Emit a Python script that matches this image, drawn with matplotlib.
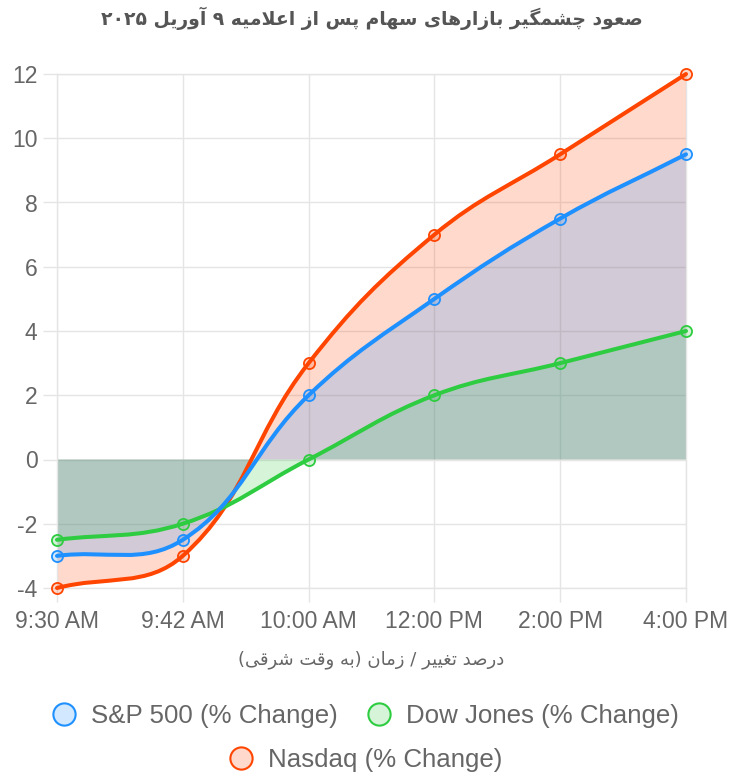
import numpy as np
import matplotlib
matplotlib.use("Agg")
import matplotlib.pyplot as plt
from matplotlib.path import Path
from matplotlib.patches import PathPatch
from matplotlib.lines import Line2D

plt.rcParams["axes.unicode_minus"] = False

# ================= data =================
times = ["9:30 AM", "9:42 AM", "10:00 AM", "12:00 PM", "2:00 PM", "4:00 PM"]
sp500 = [-3, -2.5, 2, 5, 7.5, 9.5]
dow = [-2.5, -2, 0, 2, 3, 4]
nasdaq = [-4, -3, 3, 7, 9.5, 12]
series_names = ["S&P 500 (% Change)", "Dow Jones (% Change)", "Nasdaq (% Change)"]
y_ticks = [-4, -2, 0, 2, 4, 6, 8, 10, 12]

title_fa = "صعود چشمگیر بازارهای سهام پس از اعلامیه ۹ آوریل ۲۰۲۵"
xlabel_fa = "درصد تغییر / زمان (به وقت شرقی)"

colors = ["#1E90FF", "#2ECC40", "#FF4500"]

# ================= persian shaping (no bidi lib available) =================
# char: (isolated, final, initial, medial); right-joining letters have only 2 forms
FORMS = {
    "ا": (0xFE8D, 0xFE8E), "آ": (0xFE81, 0xFE82), "د": (0xFEA9, 0xFEAA),
    "ر": (0xFEAD, 0xFEAE), "ز": (0xFEAF, 0xFEB0), "و": (0xFEED, 0xFEEE),
    "ب": (0xFE8F, 0xFE90, 0xFE91, 0xFE92), "ت": (0xFE95, 0xFE96, 0xFE97, 0xFE98),
    "س": (0xFEB1, 0xFEB2, 0xFEB3, 0xFEB4), "ش": (0xFEB5, 0xFEB6, 0xFEB7, 0xFEB8),
    "ص": (0xFEB9, 0xFEBA, 0xFEBB, 0xFEBC), "ع": (0xFEC9, 0xFECA, 0xFECB, 0xFECC),
    "غ": (0xFECD, 0xFECE, 0xFECF, 0xFED0), "ق": (0xFED5, 0xFED6, 0xFED7, 0xFED8),
    "ل": (0xFEDD, 0xFEDE, 0xFEDF, 0xFEE0), "م": (0xFEE1, 0xFEE2, 0xFEE3, 0xFEE4),
    "ن": (0xFEE5, 0xFEE6, 0xFEE7, 0xFEE8), "ه": (0xFEE9, 0xFEEA, 0xFEEB, 0xFEEC),
    "ی": (0xFBFC, 0xFBFD, 0xFBFE, 0xFBFF), "پ": (0xFB56, 0xFB57, 0xFB58, 0xFB59),
    "چ": (0xFB7A, 0xFB7B, 0xFB7C, 0xFB7D), "گ": (0xFB92, 0xFB93, 0xFB94, 0xFB95),
    "ک": (0xFB8E, 0xFB8F, 0xFB90, 0xFB91),
}
LAM_ALEF = {"ا": (0xFEFB, 0xFEFC), "آ": (0xFEF5, 0xFEF6)}
MIRROR = {"(": ")", ")": "("}


def shape_rtl(text):
    out = []
    i = 0
    n = len(text)
    while i < n:
        ch = text[i]
        if ch not in FORMS:
            out.append(MIRROR.get(ch, ch))
            i += 1
            continue
        prev = text[i - 1] if i > 0 else ""
        join_prev = prev in FORMS and len(FORMS[prev]) == 4
        if ch == "ل" and i + 1 < n and text[i + 1] in LAM_ALEF:
            f = LAM_ALEF[text[i + 1]]
            out.append(chr(f[1] if join_prev else f[0]))
            i += 2
            continue
        f = FORMS[ch]
        join_next = len(f) == 4 and i + 1 < n and text[i + 1] in FORMS
        if join_prev and join_next:
            out.append(chr(f[3]))
        elif join_prev:
            out.append(chr(f[1]))
        elif join_next:
            out.append(chr(f[2]))
        else:
            out.append(chr(f[0]))
        i += 1
    vis = "".join(out)[::-1]
    # digit runs keep left-to-right order
    res, run = [], ""
    for c in vis:
        if c.isdigit():
            run += c
        else:
            if run:
                res.append(run[::-1])
                run = ""
            res.append(c)
    if run:
        res.append(run[::-1])
    return "".join(res)


# ================= chart.js style spline =================
def spline_path(xs, ys, sx, sy, xlim, ylim, tension=0.4):
    px = np.asarray(xs, float) * sx
    py = np.asarray(ys, float) * sy
    n = len(px)
    cp_prev = []
    cp_next = []
    for i in range(n):
        a = i - 1 if i > 0 else i
        b = i + 1 if i < n - 1 else i
        d01 = np.hypot(px[i] - px[a], py[i] - py[a])
        d12 = np.hypot(px[b] - px[i], py[b] - py[i])
        tot = d01 + d12
        s01 = d01 / tot if tot else 0
        s12 = d12 / tot if tot else 0
        fa, fb = tension * s01, tension * s12
        w, h = px[b] - px[a], py[b] - py[a]
        c1 = [px[i] - fa * w, py[i] - fa * h]
        c2 = [px[i] + fb * w, py[i] + fb * h]
        # cap control points to chart area
        for c in (c1, c2):
            c[0] = min(max(c[0], xlim[0] * sx), xlim[1] * sx)
            c[1] = min(max(c[1], ylim[0] * sy), ylim[1] * sy)
        cp_prev.append(c1)
        cp_next.append(c2)
    verts = [(px[0], py[0])]
    codes = [Path.MOVETO]
    for i in range(n - 1):
        verts += [tuple(cp_next[i]), tuple(cp_prev[i + 1]), (px[i + 1], py[i + 1])]
        codes += [Path.CURVE4] * 3
    verts = [(v[0] / sx, v[1] / sy) for v in verts]
    return verts, codes


# ================= figure =================
W, H = 730, 777
fig = plt.figure(figsize=(W / 100, H / 100), dpi=100)
ax_l, ax_b, ax_w, ax_h = 57, 189, 629, 514
ax = fig.add_axes([ax_l / W, ax_b / H, ax_w / W, ax_h / H])

x = np.arange(len(times))
xlim = (0, len(times) - 1)
ylim = (-4, 12)
ax.set_xlim(*xlim)
ax.set_ylim(*ylim)
sx = ax_w / (xlim[1] - xlim[0])
sy = ax_h / (ylim[1] - ylim[0])

grid_c = "#e5e5e5"
ax.set_xticks(x)
ax.set_xticklabels(times)
ax.set_yticks(y_ticks)
ax.grid(True, color=grid_c, linewidth=1.0)
ax.set_axisbelow(True)
for s in ax.spines.values():
    s.set_color(grid_c)
    s.set_linewidth(1.0)
ax.tick_params(axis="both", length=10, width=1.0, color=grid_c,
               labelcolor="#666666", labelsize=16.5, pad=4)
ax.tick_params(axis="x", pad=6)
for lab in ax.get_xticklabels() + ax.get_yticklabels():
    lab.set_fontfamily("Liberation Sans")

# draw order like chart.js: last dataset at bottom
data = [sp500, dow, nasdaq]
for k in [2, 1, 0]:
    vals = data[k]
    col = colors[k]
    verts, codes = spline_path(x, vals, sx, sy, xlim, ylim)
    fill_v = verts + [(x[-1], 0), (x[0], 0), (x[0], 0)]
    fill_c = codes + [Path.LINETO, Path.LINETO, Path.CLOSEPOLY]
    ax.add_patch(PathPatch(Path(fill_v, fill_c), facecolor=col, alpha=0.2,
                           edgecolor="none", zorder=1))

for k in [2, 1, 0]:
    vals = data[k]
    col = colors[k]
    verts, codes = spline_path(x, vals, sx, sy, xlim, ylim)
    ax.add_patch(PathPatch(Path(verts, codes), facecolor="none", edgecolor=col,
                           linewidth=2.9, capstyle="round", joinstyle="round",
                           zorder=3 + (2 - k), clip_on=False))
    ax.plot(x, vals, linestyle="none", marker="o", markersize=8,
            markerfacecolor=matplotlib.colors.to_rgba(col, 0.2),
            markeredgecolor=col, markeredgewidth=1.3,
            zorder=3.5 + (2 - k), clip_on=False)

# title and axis label
cx = (ax_l + ax_w / 2) / W
fig.text(cx, 1 - 18 / H, shape_rtl(title_fa), ha="center", va="center",
         fontsize=13.5, fontweight="bold", color="#555555", family="DejaVu Sans")
fig.text(cx, 1 - 660 / H, shape_rtl(xlabel_fa), ha="center", va="center",
         fontsize=13, color="#666666", family="DejaVu Sans")


# legend, chart.js style circles
def handle(col):
    return Line2D([], [], linestyle="none", marker="o", markersize=16,
                  markerfacecolor=matplotlib.colors.to_rgba(col, 0.2),
                  markeredgecolor=col, markeredgewidth=1.5)


leg_kw = dict(frameon=False, loc="center", handlelength=1.0, handletextpad=0.55,
              columnspacing=1.1, borderaxespad=0,
              prop={"family": "Liberation Sans", "size": 18.6})
leg1 = fig.legend([handle(colors[0]), handle(colors[1])], series_names[:2], ncol=2,
                  bbox_to_anchor=(0.5, 1 - 716 / H), **leg_kw)
for t in leg1.get_texts():
    t.set_color("#666666")
leg2 = fig.legend([handle(colors[2])], series_names[2:], ncol=1,
                  bbox_to_anchor=(0.5, 1 - 760 / H), **leg_kw)
for t in leg2.get_texts():
    t.set_color("#666666")

fig.savefig("out.png", dpi=100)
